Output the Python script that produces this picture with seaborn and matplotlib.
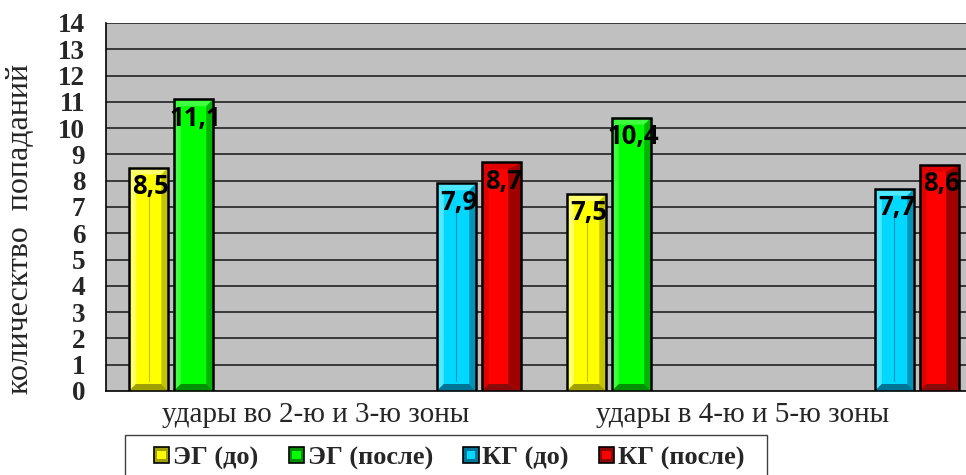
import matplotlib
matplotlib.use("Agg")
import matplotlib.pyplot as plt
import numpy as np
import pandas as pd
import seaborn as sns
from matplotlib.patches import Polygon, Rectangle, Patch
from matplotlib.legend_handler import HandlerPatch

# ---- data -------------------------------------------------------------
categories = ["удары во 2-ю и 3-ю зоны", "удары в 4-ю и 5-ю зоны"]
series = ["ЭГ (до)", "ЭГ (после)", "КГ (до)", "КГ (после)"]
eg_before = [8.5, 7.5]
eg_after = [11.1, 10.4]
kg_before = [7.9, 7.7]
kg_after = [8.7, 8.6]
y_ticks = list(range(0, 15))
y_label = "колическтво  попаданий"

# ---- styling / layout ---------------------------------------------------
offsets = [-0.4028, -0.3002, 0.3002, 0.4028]   # bar centres within a category
label_shift_px = [-9, -20]                      # horizontal nudge of category labels
bar_width = 0.090
face = ["#FFFF00", "#00FF00", "#00D8FF", "#FF0000"]
light = ["#FFFF70", "#40FF40", "#50E8FF", "#E00000"]
side = ["#C4C400", "#00B400", "#0095B8", "#A00000"]
bottom = ["#A0A000", "#009000", "#007595", "#8A0A0A"]
side_px = [7, 7, 7, 13]
serif = "Liberation Serif"

sns.set_style("white")
plt.rcParams["font.family"] = [serif, "DejaVu Sans"]

values = [eg_before, eg_after, kg_before, kg_after]
rows = []
for si, name in enumerate(series):
    for ci, cat in enumerate(categories):
        rows.append({"pos": ci + offsets[si], "value": values[si][ci], "series": name})
df = pd.DataFrame(rows)

fig = plt.figure(figsize=(9.66, 4.75), dpi=100)
ax_left, ax_w = 106, 876
ax_bot, ax_h = 475 - 391, 368
ax = fig.add_axes([ax_left / 966, ax_bot / 475, ax_w / 966, ax_h / 475])
ax.set_facecolor("#C0C0C0")

native = min(np.diff(sorted(set(df["pos"]))))
sns.barplot(data=df, x="pos", y="value", hue="series", hue_order=series,
            palette=face, native_scale=True, dodge=False,
            width=bar_width / native, saturation=1, errorbar=None,
            edgecolor="black", linewidth=0, legend=False, ax=ax, zorder=3)

ax.set_xlim(-0.5, len(categories) - 0.5)
ax.set_ylim(0, 14)
ax.set_yticks(y_ticks)
ax.set_yticklabels([str(t) for t in y_ticks], fontsize=19.5, fontweight="bold")
ax.set_xticks(range(len(categories)))
ax.set_xticklabels([])
for ci, (cat, dx) in enumerate(zip(categories, label_shift_px)):
    ax.annotate(cat, xy=(ci, 0), xycoords=("data", "axes fraction"),
                xytext=(dx, -11), textcoords="offset pixels",
                ha="center", va="top", fontsize=21, family=serif)
ax.set_xlabel("")
ax.set_ylabel(y_label, fontsize=23, labelpad=0)
ax.yaxis.set_label_coords(-0.081, 0.44)

ax.grid(False)
for t in y_ticks[1:]:
    ax.axhline(t, color="#151515", lw=1.1, zorder=1)
for s in ["top", "right"]:
    ax.spines[s].set_visible(False)
for s in ["left", "bottom"]:
    ax.spines[s].set_color("black")
    ax.spines[s].set_linewidth(1.2)
ax.tick_params(axis="y", direction="out", length=6, width=1.1, color="black", pad=9)
ax.tick_params(axis="x", length=0)

# bevelled look for each bar
dxpp = (len(categories)) / ax_w
dypp = 14 / ax_h
for si, cont in enumerate(ax.containers):
    for patch in cont.patches:
        x0 = patch.get_x()
        w = patch.get_width()
        h = patch.get_height()
        x1 = x0 + w
        bx = 7 * dxpp
        by = 7 * dypp
        sx = side_px[si] * dxpp
        polys = [
            ([(x0, 0), (x0, h), (x0 + bx, h - by), (x0 + bx, by)], light[si]),
            ([(x0, h), (x1, h), (x1 - sx, h - by), (x0 + bx, h - by)], light[si]),
            ([(x1, 0), (x1, h), (x1 - sx, h - by), (x1 - sx, by)], side[si]),
            ([(x0, 0), (x1, 0), (x1 - sx, by), (x0 + bx, by)], bottom[si]),
        ]
        for pts, col in polys:
            ax.add_patch(Polygon(pts, closed=True, facecolor=col, edgecolor="none", zorder=3.2))
        if si in (0, 2):
            xc = x0 + w / 2
            ax.plot([xc, xc], [by * 1.5, h - 3.5 * by], color=side[si], lw=0.8, zorder=3.3)
        ax.add_patch(Rectangle((x0, 0), w, h, fill=False, edgecolor="black", lw=1.8, zorder=3.5))
        ax.annotate(f"{h:.1f}".replace(".", ","), (x0 + w / 2, h), xytext=(1.5, -4),
                    textcoords="offset points", ha="center", va="top",
                    fontsize=18.5, fontweight="bold", family="Open Sans",
                    color="black", zorder=5)


class BevelHandler(HandlerPatch):
    def __init__(self, base, dark, **kw):
        super().__init__(**kw)
        self.base, self.dark = base, dark

    def create_artists(self, legend, orig_handle, xdescent, ydescent, width, height, fontsize, trans):
        size = min(width, height)
        x0 = -xdescent + (width - size) / 2
        y0 = -ydescent + (height - size) / 2
        outer = Rectangle((x0, y0), size, size, facecolor=self.dark, edgecolor="black",
                          lw=1.2, transform=trans)
        inset = size * 0.22
        inner = Rectangle((x0 + inset, y0 + inset), size - 2 * inset, size - 2 * inset,
                          facecolor=self.base, edgecolor="none", transform=trans)
        return [outer, inner]


handles = [Patch(facecolor=face[i], label=series[i]) for i in range(len(series))]
hmap = {h: BevelHandler(face[i], bottom[i]) for i, h in enumerate(handles)}
leg = fig.legend(handles=handles, handler_map=hmap, loc="center left",
                 bbox_to_anchor=(154 / 966, 1 - 458 / 475), ncol=4, frameon=False,
                 prop={"family": serif, "weight": "bold", "size": 19},
                 handlelength=0.58, handleheight=0.58, handletextpad=0.15,
                 columnspacing=1.14, borderpad=0, borderaxespad=0)
fig.add_artist(Rectangle((125 / 966, -0.05), (767 - 125) / 966, (1 - 435 / 475) + 0.05,
                         transform=fig.transFigure, fill=False, edgecolor="#404040", lw=1.0))

fig.savefig("out.png", dpi=100)
